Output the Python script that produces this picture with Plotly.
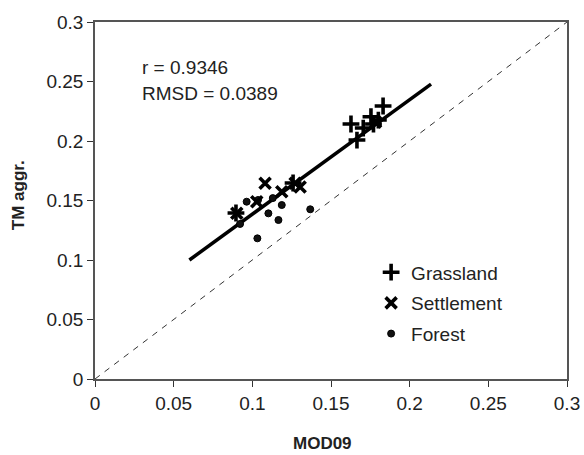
import plotly.graph_objects as go

# Surface reflectance pairs (MOD09 vs aggregated TM) per land-cover class
grass_x = [0.0896, 0.1259, 0.1627, 0.1665, 0.1705, 0.1754, 0.1770, 0.1801, 0.1831]
grass_y = [0.1395, 0.1647, 0.2143, 0.2008, 0.2109, 0.2204, 0.2143, 0.2176, 0.2294]

settle_x = [0.0901, 0.1028, 0.1081, 0.1187, 0.1272, 0.1304, 0.1783]
settle_y = [0.1392, 0.1490, 0.1645, 0.1574, 0.1645, 0.1613, 0.2160]

forest_x = [0.0922, 0.0964, 0.1036, 0.1102, 0.1187, 0.1166, 0.1032, 0.1368, 0.1130]
forest_y = [0.1303, 0.1490, 0.1504, 0.1392, 0.1462, 0.1336, 0.1182, 0.1426, 0.1520]

# Least-squares fit, drawn over a fixed x span
fit_slope = 0.962
fit_intercept = 0.0423
fit_x = [0.060, 0.2136]

# Statistics shown on the chart
r_value = "0.9346"
rmsd_value = "0.0389"

tick_vals = [0, 0.05, 0.1, 0.15, 0.2, 0.25, 0.3]
tick_text = ["0", "0.05", "0.1", "0.15", "0.2", "0.25", "0.3"]

FONT = "Liberation Sans, Arial, sans-serif"

fig = go.Figure()

# 1:1 reference line
fig.add_trace(go.Scatter(
    x=[0, 0.3], y=[0, 0.3], mode="lines",
    line=dict(color="#333333", width=1, dash="6px,6px"),
    showlegend=False, hoverinfo="skip"))

# Regression line
fig.add_trace(go.Scatter(
    x=fit_x, y=[fit_slope * v + fit_intercept for v in fit_x], mode="lines",
    line=dict(color="black", width=3.5),
    showlegend=False, hoverinfo="skip"))

fig.add_trace(go.Scatter(
    x=forest_x, y=forest_y, mode="markers", name="Forest",
    legendgroup="f", legendrank=3,
    marker=dict(symbol="circle", size=7, color="#111111",
                line=dict(color="black", width=1))))

fig.add_trace(go.Scatter(
    x=settle_x, y=settle_y, mode="markers", name="Settlement",
    legendgroup="s", legendrank=2,
    marker=dict(symbol="x-thin", size=11, color="black",
                line=dict(color="black", width=3.6))))

fig.add_trace(go.Scatter(
    x=grass_x, y=grass_y, mode="markers", name="Grassland",
    legendgroup="g", legendrank=1,
    marker=dict(symbol="cross-thin", size=12, color="black",
                line=dict(color="black", width=3.6))))

fig.add_annotation(x=0.0285, y=0.262, xref="x", yref="y",
                   text=f"r = {r_value}", showarrow=False,
                   xanchor="left", yanchor="middle",
                   font=dict(family=FONT, size=19, color="#222222"))
fig.add_annotation(x=0.0285, y=0.2403, xref="x", yref="y",
                   text=f"RMSD = {rmsd_value}", showarrow=False,
                   xanchor="left", yanchor="middle",
                   font=dict(family=FONT, size=19, color="#222222"))

# Axis titles
fig.add_annotation(x=0.481, y=0, xref="paper", yref="paper", yshift=-64,
                   text="<b>MOD09</b>", showarrow=False,
                   xanchor="center", yanchor="middle",
                   font=dict(family=FONT, size=17, color="#222222"))
fig.add_annotation(x=0, y=0.515, xref="paper", yref="paper", xshift=-77,
                   text="<b>TM aggr.</b>", showarrow=False, textangle=-90,
                   xanchor="center", yanchor="middle",
                   font=dict(family=FONT, size=17, color="#222222"))

axis_common = dict(
    range=[0, 0.3], tickvals=tick_vals, ticktext=tick_text,
    showgrid=False, zeroline=False, automargin=False,
    showline=True, linecolor="#555555", linewidth=1.5, mirror=True,
    ticks="outside", ticklen=6, tickwidth=1.2, tickcolor="#333333",
    tickfont=dict(family=FONT, size=19, color="#222222"),
)

fig.update_xaxes(**axis_common)
fig.update_yaxes(**axis_common)

fig.update_layout(
    width=584, height=455,
    margin=dict(l=95, r=17, t=22, b=76),
    paper_bgcolor="white", plot_bgcolor="white",
    showlegend=True,
    legend=dict(x=0.585, y=0.352, xanchor="left", yanchor="top",
                traceorder="grouped", tracegroupgap=3,
                font=dict(family=FONT, size=19, color="#222222"),
                bgcolor="rgba(0,0,0,0)", itemsizing="trace"),
)

fig.write_html("out.html")
